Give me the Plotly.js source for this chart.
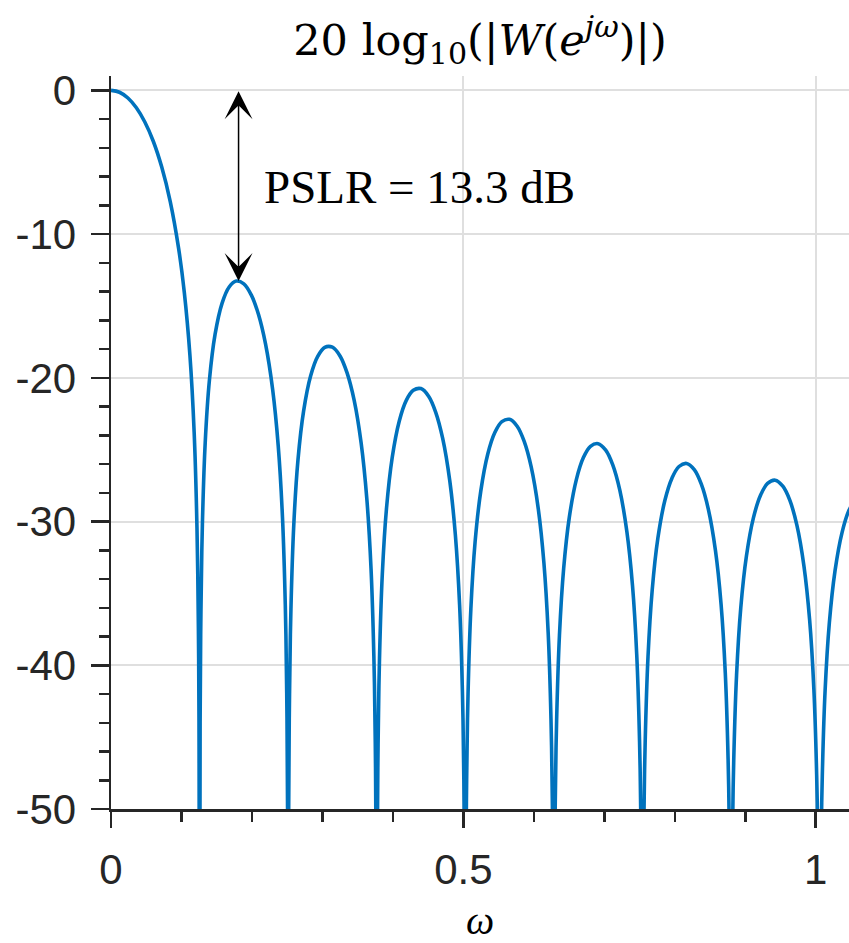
<!DOCTYPE html>
<html>
<head>
<meta charset="utf-8">
<script src="https://cdn.plot.ly/plotly-3.0.1.min.js"></script>
<style>
  html, body { margin: 0; padding: 0; background: #ffffff; }
  #chart { width: 849px; height: 943px; }
</style>
</head>
<body>
<div id="chart"></div>
<script>
// ---- Data (omega in rad/sample, magnitude in dB) ----
// The last point of each lobe is a spectral null (drops far below the -50 dB floor).
const mainLobeOmega = [0, 0.012, 0.024, 0.036, 0.048, 0.06, 0.072, 0.084, 0.096, 0.104, 0.112, 0.118, 0.122, 0.124, 0.12486, 0.12566];
const mainLobeDb    = [0, -0.13, -0.53, -1.21, -2.2, -3.54, -5.34, -7.72, -11.01, -14.05, -18.44, -23.8, -30.46, -37.45, -43.87, -80];

const lobe1Omega = [0.12646, 0.12766, 0.12966, 0.13366, 0.13966, 0.14766, 0.15766, 0.16766, 0.17766, 0.1885, 0.19933, 0.20933, 0.21933, 0.22933, 0.23733, 0.24333, 0.24733, 0.24933, 0.25053, 0.25133];
const lobe1Db    = [-43.98, -36.1, -30.23, -24.52, -20.16, -16.98, -14.8, -13.68, -13.27, -13.46, -14.26, -15.6, -17.66, -20.8, -24.76, -29.71, -35.82, -41.9, -49.91, -80];

const lobe2Omega = [0.25213, 0.25333, 0.25533, 0.25933, 0.26533, 0.27333, 0.28333, 0.29333, 0.30333, 0.31416, 0.32499, 0.33499, 0.34499, 0.35499, 0.36299, 0.36899, 0.37299, 0.37499, 0.37619, 0.37699];
const lobe2Db    = [-49.95, -42.03, -36.09, -30.26, -25.7, -22.3, -19.86, -18.51, -17.88, -17.87, -18.48, -19.66, -21.56, -24.56, -28.41, -33.29, -39.35, -45.41, -53.4, -80];

const lobe3Omega = [0.37779, 0.37899, 0.38099, 0.38499, 0.39099, 0.39899, 0.40899, 0.41899, 0.42899, 0.43982, 0.45066, 0.46066, 0.47066, 0.48066, 0.48866, 0.49466, 0.49866, 0.50066, 0.50186, 0.50265];
const lobe3Db    = [-53.43, -45.5, -39.54, -33.65, -29.05, -25.56, -23.02, -21.57, -20.87, -20.75, -21.28, -22.38, -24.22, -27.15, -30.95, -35.8, -41.84, -47.88, -55.86, -80];

const lobe4Omega = [0.50345, 0.50465, 0.50665, 0.51065, 0.51665, 0.52465, 0.53465, 0.54465, 0.55465, 0.56549, 0.57632, 0.58632, 0.59632, 0.60632, 0.61432, 0.62032, 0.62432, 0.62632, 0.62752, 0.62832];
const lobe4Db    = [-55.89, -47.95, -41.97, -36.07, -31.42, -27.9, -25.3, -23.81, -23.05, -22.89, -23.37, -24.43, -26.22, -29.12, -32.89, -37.71, -43.74, -49.78, -57.75, -80];

const lobe5Omega = [0.62912, 0.63032, 0.63232, 0.63632, 0.64232, 0.65032, 0.66032, 0.67032, 0.68032, 0.69115, 0.70198, 0.71198, 0.72198, 0.73198, 0.73998, 0.74598, 0.74998, 0.75198, 0.75318, 0.75398];
const lobe5Db    = [-57.77, -49.83, -43.84, -37.93, -33.26, -29.71, -27.08, -25.55, -24.77, -24.58, -25.03, -26.06, -27.82, -30.69, -34.44, -39.25, -45.27, -51.3, -59.27, -80];

const lobe6Omega = [0.75478, 0.75598, 0.75798, 0.76198, 0.76798, 0.77598, 0.78598, 0.79598, 0.80598, 0.81681, 0.82765, 0.83765, 0.84765, 0.85765, 0.86565, 0.87165, 0.87565, 0.87765, 0.87885, 0.87965];
const lobe6Db    = [-59.29, -51.34, -45.35, -39.42, -34.75, -31.17, -28.52, -26.98, -26.17, -25.96, -26.39, -27.4, -29.15, -32.0, -35.74, -40.53, -46.54, -52.57, -60.54, -80];

const lobe7Omega = [0.88045, 0.88165, 0.88365, 0.88765, 0.89365, 0.90165, 0.91165, 0.92165, 0.93165, 0.94248, 0.95331, 0.96331, 0.97331, 0.98331, 0.99131, 0.99731, 1.00131, 1.00331, 1.00451, 1.00531];
const lobe7Db    = [-60.55, -52.6, -46.61, -40.68, -35.99, -32.4, -29.73, -28.17, -27.35, -27.12, -27.54, -28.53, -30.27, -33.11, -36.83, -41.62, -47.62, -53.65, -61.61, -80];

const lobe8Omega = [1.00611, 1.00731, 1.00931, 1.01331, 1.01931, 1.02731, 1.03731, 1.04731, 1.05731];
const lobe8Db    = [-61.62, -53.67, -47.68, -41.74, -37.05, -33.45, -30.77, -29.2, -28.36];

const xTickVals  = [0, 0.5, 1];
const xTickText  = ['0', '0.5', '1'];
const yTickVals  = [0, -10, -20, -30, -40, -50];
const yTickText  = ['0', '-10', '-20', '-30', '-40', '-50'];

const pslrOmega = 0.181;    // location of first sidelobe peak
const pslrLevel = -13.26;   // first sidelobe level (dB)
const pslrLabel = 'PSLR = 13.3 dB';

// ---- Build the trace ----
const omega = [].concat(mainLobeOmega, lobe1Omega, lobe2Omega, lobe3Omega, lobe4Omega,
                        lobe5Omega, lobe6Omega, lobe7Omega, lobe8Omega);
const magDb = [].concat(mainLobeDb, lobe1Db, lobe2Db, lobe3Db, lobe4Db,
                        lobe5Db, lobe6Db, lobe7Db, lobe8Db);

const axisColor = '#262626';
const gridColor = '#dfdfdf';

const trace = {
  type: 'scatter',
  mode: 'lines',
  x: omega,
  y: magDb,
  line: { color: '#0072BD', width: 3.6, shape: 'spline', smoothing: 1 },
  hoverinfo: 'skip',
  showlegend: false
};

const layout = {
  width: 849,
  height: 943,
  margin: { l: 111, r: 0, t: 76, b: 134 },
  paper_bgcolor: '#ffffff',
  plot_bgcolor: '#ffffff',
  showlegend: false,
  title: {
    text: '20 log<sub>10</sub>(|<i>W</i>(<i>e</i><sup><i>jω</i></sup>)|)',
    font: { family: 'DejaVu Serif', size: 43, color: '#000000' },
    xref: 'paper', x: 0.5, xanchor: 'center',
    yref: 'container', y: 0.958, yanchor: 'middle'
  },
  xaxis: {
    range: [0, 1.0472],
    tickmode: 'array', tickvals: xTickVals, ticktext: xTickText,
    ticks: 'outside', ticklen: 16, tickwidth: 2.5, tickcolor: axisColor,
    ticklabelstandoff: 6,
    tickfont: { family: 'Liberation Sans', size: 42, color: axisColor },
    showline: true, linecolor: axisColor, linewidth: 2.5,
    showgrid: true, gridcolor: gridColor, gridwidth: 2,
    zeroline: false,
    minor: { tickmode: 'linear', tick0: 0, dtick: 0.1, ticks: 'outside', ticklen: 10,
             tickwidth: 2.5, tickcolor: axisColor, showgrid: false },
    title: { text: '<i>ω</i>', font: { family: 'Liberation Serif', size: 40, color: '#000000' }, standoff: 32 },
    automargin: false
  },
  yaxis: {
    range: [-50, 1],
    tickmode: 'array', tickvals: yTickVals, ticktext: yTickText,
    ticks: 'outside', ticklen: 18, tickwidth: 2.5, tickcolor: axisColor,
    ticklabelstandoff: 6,
    tickfont: { family: 'Liberation Sans', size: 42, color: axisColor },
    showline: true, linecolor: axisColor, linewidth: 2.5,
    showgrid: true, gridcolor: gridColor, gridwidth: 2,
    zeroline: false,
    minor: { tickmode: 'linear', tick0: 0, dtick: 2, ticks: 'outside', ticklen: 10,
             tickwidth: 2.5, tickcolor: axisColor, showgrid: false },
    automargin: false
  },
  annotations: [
    {
      xref: 'x', yref: 'y', axref: 'x', ayref: 'y',
      x: pslrOmega, y: pslrLevel, ax: pslrOmega, ay: 0,
      text: ' ', showarrow: true,
      arrowhead: 3, startarrowhead: 3, arrowside: 'end+start',
      arrowsize: 3.1, startarrowsize: 3.1, arrowwidth: 1.5, arrowcolor: '#000000',
      standoff: 0, startstandoff: 0,
      font: { size: 1 }, borderpad: 0
    },
    {
      xref: 'x', yref: 'y',
      x: 0.2137, y: -6.75,
      text: pslrLabel, showarrow: false,
      xanchor: 'left', yanchor: 'middle',
      font: { family: 'Liberation Serif', size: 47, color: '#000000' }
    }
  ]
};

Plotly.newPlot('chart', [trace], layout, { staticPlot: true, displayModeBar: false });
</script>
</body>
</html>
